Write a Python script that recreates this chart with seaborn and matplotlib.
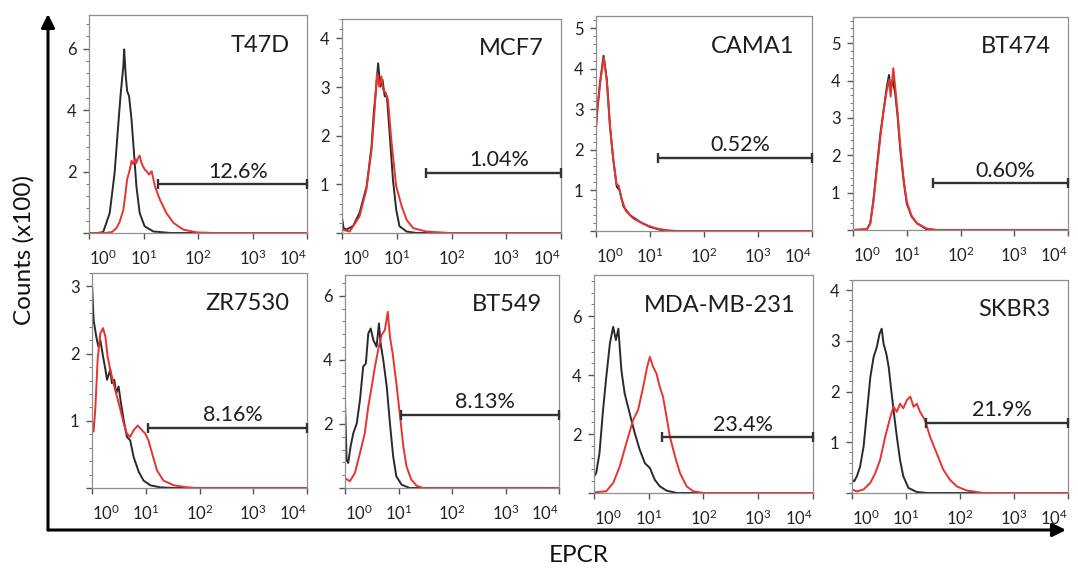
import numpy as np
import pandas as pd
import matplotlib
matplotlib.use("Agg")
import matplotlib.pyplot as plt
from matplotlib.ticker import AutoMinorLocator, FixedLocator, LogLocator, NullFormatter
from matplotlib.patches import FancyArrowPatch
import seaborn as sns

# ---------------- data (x in log10 EPCR units, y in counts x100) ----------------
cell_lines = ["T47D", "MCF7", "CAMA1", "BT474", "ZR7530", "BT549", "MDA-MB-231", "SKBR3"]
percent_labels = ["12.6%", "1.04%", "0.52%", "0.60%", "8.16%", "8.13%", "23.4%", "21.9%"]
gate_start_log = [1.27, 1.53, 1.15, 1.48, 1.05, 1.04, 1.25, 1.37]
gate_level = [1.58, 1.23, 1.80, 1.25, 0.90, 2.28, 1.89, 1.39]
y_max = [7.1, 4.4, 5.3, 5.7, 3.2, 6.65, 7.4, 4.2]
y_ticks = [[2, 4, 6], [1, 2, 3, 4], [1, 2, 3, 4, 5], [1, 2, 3, 4, 5],
           [1, 2, 3], [2, 4, 6], [2, 4, 6], [1, 2, 3, 4]]

t47d_iso_x = [0.0, 0.15, 0.26, 0.38, 0.47, 0.53, 0.58, 0.63, 0.645, 0.675, 0.70, 0.735, 0.78, 0.83, 0.87, 0.93, 1.02, 1.18, 1.5, 4.0]
t47d_iso_y = [0.0, 0.0, 0.03, 0.65, 1.96, 3.37, 4.51, 5.43, 5.98, 5.10, 4.62, 4.46, 3.70, 2.50, 1.52, 0.65, 0.22, 0.05, 0.0, 0.0]
t47d_epcr_x = [0.0, 0.30, 0.42, 0.50, 0.56, 0.63, 0.67, 0.70, 0.75, 0.78, 0.81, 0.85, 0.87, 0.90, 0.93, 0.96, 0.99, 1.03, 1.06, 1.10, 1.15, 1.21, 1.30, 1.42, 1.55, 1.73, 1.98, 2.3, 4.0]
t47d_epcr_y = [0.0, 0.0, 0.03, 0.15, 0.35, 0.75, 1.30, 1.75, 2.07, 2.35, 2.25, 2.40, 2.28, 2.45, 2.52, 2.30, 2.17, 2.05, 2.01, 1.90, 2.01, 1.52, 1.09, 0.65, 0.33, 0.11, 0.02, 0.0, 0.0]

mcf7_iso_x = [0.0, 0.03, 0.08, 0.2, 0.32, 0.45, 0.54, 0.58, 0.62, 0.66, 0.70, 0.74, 0.78, 0.82, 0.87, 0.93, 0.99, 1.05, 1.18, 1.36, 4.0]
mcf7_iso_y = [0.31, 0.1, 0.07, 0.14, 0.41, 0.96, 1.78, 2.47, 2.95, 3.49, 3.01, 3.15, 2.81, 2.81, 2.05, 1.10, 0.48, 0.14, 0.03, 0.0, 0.0]
mcf7_epcr_x = [0.0, 0.14, 0.32, 0.445, 0.54, 0.60, 0.64, 0.68, 0.72, 0.75, 0.80, 0.84, 0.90, 0.99, 1.09, 1.18, 1.30, 1.54, 1.97, 4.0]
mcf7_epcr_y = [0.07, 0.03, 0.34, 0.89, 1.71, 2.60, 3.29, 3.01, 3.22, 2.95, 2.88, 2.74, 1.92, 0.96, 0.55, 0.27, 0.10, 0.03, 0.0, 0.0]

cama1_iso_x = [0.0, 0.025, 0.075, 0.14, 0.2, 0.26, 0.32, 0.385, 0.435, 0.51, 0.63, 0.82, 1.0, 1.19, 1.38, 4.0]
cama1_iso_y = [2.58, 3.0, 3.66, 4.32, 3.74, 2.58, 1.75, 1.09, 1.01, 0.6, 0.39, 0.22, 0.10, 0.03, 0.0, 0.0]
cama1_epcr_x = [0.0, 0.03, 0.08, 0.145, 0.2, 0.26, 0.32, 0.38, 0.42, 0.47, 0.55, 0.7, 0.9, 1.1, 1.3, 1.5, 4.0]
cama1_epcr_y = [2.5, 3.05, 3.7, 4.28, 3.7, 2.55, 1.78, 1.15, 1.12, 0.8, 0.5, 0.3, 0.16, 0.07, 0.02, 0.0, 0.0]

bt474_iso_x = [0.0, 0.26, 0.32, 0.38, 0.445, 0.51, 0.57, 0.63, 0.67, 0.70, 0.74, 0.785, 0.83, 0.88, 0.94, 1.0, 1.09, 1.19, 1.37, 1.56, 4.0]
bt474_iso_y = [0.0, 0.02, 0.18, 0.80, 1.70, 2.59, 3.21, 3.84, 4.15, 3.75, 4.02, 3.66, 3.04, 2.14, 1.34, 0.71, 0.36, 0.18, 0.02, 0.0, 0.0]
bt474_epcr_x = [0.0, 0.26, 0.32, 0.38, 0.445, 0.51, 0.57, 0.63, 0.67, 0.70, 0.75, 0.79, 0.83, 0.88, 0.94, 1.0, 1.09, 1.19, 1.37, 1.56, 4.0]
bt474_epcr_y = [0.0, 0.02, 0.16, 0.76, 1.65, 2.50, 3.21, 3.75, 4.02, 3.57, 4.33, 3.75, 3.13, 2.23, 1.38, 0.76, 0.38, 0.18, 0.04, 0.0, 0.0]

zr7530_iso_x = [0.0, 0.03, 0.08, 0.12, 0.155, 0.205, 0.25, 0.28, 0.34, 0.37, 0.415, 0.45, 0.495, 0.53, 0.59, 0.65, 0.71, 0.775, 0.87, 0.96, 1.085, 1.27, 1.52, 4.0]
zr7530_iso_y = [3.05, 2.50, 2.25, 2.10, 2.20, 1.96, 1.76, 1.61, 1.76, 1.56, 1.61, 1.41, 1.51, 1.31, 1.01, 0.76, 0.71, 0.46, 0.24, 0.11, 0.04, 0.01, 0.0, 0.0]
zr7530_epcr_x = [0.0, 0.03, 0.06, 0.105, 0.155, 0.205, 0.25, 0.29, 0.34, 0.40, 0.465, 0.53, 0.59, 0.65, 0.71, 0.775, 0.85, 0.93, 0.99, 1.05, 1.12, 1.21, 1.33, 1.52, 1.77, 1.95, 4.0]
zr7530_epcr_y = [1.01, 0.84, 1.16, 1.91, 2.30, 2.38, 2.25, 1.96, 1.76, 1.56, 1.36, 1.16, 0.96, 0.81, 0.76, 0.86, 0.93, 0.86, 0.81, 0.71, 0.51, 0.26, 0.11, 0.04, 0.01, 0.0, 0.0]

bt549_iso_x = [0.0, 0.03, 0.06, 0.105, 0.155, 0.22, 0.28, 0.34, 0.39, 0.435, 0.48, 0.53, 0.59, 0.635, 0.665, 0.715, 0.78, 0.84, 0.90, 0.96, 1.06, 1.21, 4.0]
bt549_iso_y = [2.65, 0.88, 0.78, 1.30, 1.71, 2.02, 2.75, 3.79, 3.89, 4.82, 4.98, 4.62, 4.41, 5.14, 4.52, 4.0, 3.17, 2.02, 0.99, 0.36, 0.10, 0.0, 0.0]
bt549_epcr_x = [0.0, 0.09, 0.185, 0.28, 0.37, 0.435, 0.50, 0.56, 0.62, 0.685, 0.745, 0.80, 0.84, 0.89, 0.96, 1.03, 1.09, 1.15, 1.24, 1.34, 1.46, 4.0]
bt549_epcr_y = [0.31, 0.21, 0.47, 1.09, 1.71, 2.54, 3.17, 3.79, 4.31, 4.78, 4.93, 5.50, 4.72, 4.21, 3.27, 2.23, 1.30, 0.67, 0.26, 0.07, 0.0, 0.0]

mda_iso_x = [0.0, 0.04, 0.10, 0.165, 0.225, 0.29, 0.35, 0.40, 0.445, 0.50, 0.56, 0.65, 0.745, 0.835, 0.93, 1.02, 1.11, 1.20, 1.325, 1.51, 4.0]
mda_iso_y = [0.56, 0.68, 1.35, 2.82, 3.95, 5.07, 5.64, 5.19, 5.58, 4.17, 3.38, 2.71, 2.03, 1.47, 1.01, 0.85, 0.45, 0.23, 0.08, 0.0, 0.0]
mda_epcr_x = [0.0, 0.225, 0.35, 0.47, 0.59, 0.715, 0.805, 0.90, 0.97, 1.02, 1.08, 1.14, 1.20, 1.26, 1.325, 1.385, 1.48, 1.57, 1.69, 1.81, 2.0, 4.0]
mda_epcr_y = [0.02, 0.06, 0.34, 0.90, 1.69, 2.48, 2.82, 3.61, 4.28, 4.62, 4.28, 4.06, 3.61, 3.27, 2.59, 1.92, 1.24, 0.68, 0.23, 0.06, 0.0, 0.0]

skbr3_iso_x = [0.0, 0.04, 0.09, 0.15, 0.215, 0.28, 0.34, 0.40, 0.46, 0.51, 0.55, 0.585, 0.635, 0.68, 0.72, 0.77, 0.83, 0.89, 0.95, 1.045, 1.2, 1.4, 4.0]
skbr3_iso_y = [0.26, 0.23, 0.33, 0.52, 0.92, 1.63, 2.29, 2.68, 2.88, 3.14, 3.24, 2.94, 2.75, 2.48, 2.09, 1.63, 1.11, 0.65, 0.33, 0.10, 0.02, 0.0, 0.0]
skbr3_epcr_x = [0.0, 0.09, 0.215, 0.34, 0.43, 0.52, 0.615, 0.71, 0.77, 0.83, 0.89, 0.95, 1.015, 1.08, 1.14, 1.20, 1.26, 1.35, 1.445, 1.57, 1.69, 1.815, 1.94, 2.12, 2.43, 4.0]
skbr3_epcr_y = [0.07, 0.03, 0.07, 0.20, 0.39, 0.65, 1.11, 1.50, 1.70, 1.60, 1.76, 1.67, 1.83, 1.90, 1.70, 1.76, 1.60, 1.44, 1.11, 0.78, 0.46, 0.26, 0.13, 0.05, 0.0, 0.0]

iso_curves = [(t47d_iso_x, t47d_iso_y), (mcf7_iso_x, mcf7_iso_y), (cama1_iso_x, cama1_iso_y),
              (bt474_iso_x, bt474_iso_y), (zr7530_iso_x, zr7530_iso_y), (bt549_iso_x, bt549_iso_y),
              (mda_iso_x, mda_iso_y), (skbr3_iso_x, skbr3_iso_y)]
epcr_curves = [(t47d_epcr_x, t47d_epcr_y), (mcf7_epcr_x, mcf7_epcr_y), (cama1_epcr_x, cama1_epcr_y),
               (bt474_epcr_x, bt474_epcr_y), (zr7530_epcr_x, zr7530_epcr_y), (bt549_epcr_x, bt549_epcr_y),
               (mda_epcr_x, mda_epcr_y), (skbr3_epcr_x, skbr3_epcr_y)]

x_tick_values = [1, 10, 100, 1000, 10000]
x_tick_labels = [r"$\mathregular{10^{0}}$", r"$\mathregular{10^{1}}$", r"$\mathregular{10^{2}}$",
                 r"$\mathregular{10^{3}}$", r"$\mathregular{10^{4}}$"]

# ---------------- style ----------------
sns.set_theme(style="white")
FONT = "Lato"
plt.rcParams["font.family"] = [FONT, "DejaVu Sans"]
plt.rcParams["mathtext.fontset"] = "custom"
plt.rcParams["mathtext.rm"] = FONT
plt.rcParams["mathtext.it"] = FONT + ":italic"
plt.rcParams["mathtext.bf"] = FONT + ":bold"

W, H = 1078, 568
fig = plt.figure(figsize=(W / 100, H / 100), dpi=100)
fig.patch.set_facecolor("white")

# panel boxes in pixels: left, right, top, bottom
boxes = [(89, 307, 15, 233), (342, 561, 19, 233), (596, 812, 16, 231), (853, 1068, 17, 230),
         (92, 307, 273, 488), (345, 559, 275, 488), (594, 813, 275, 493), (852, 1068, 280, 493)]

palette = {"Isotype": "#2a2a2a", "EPCR": "#e8332f"}

for i, name in enumerate(cell_lines):
    l, r, t, b = boxes[i]
    ax = fig.add_axes([l / W, 1 - b / H, (r - l) / W, (b - t) / H])
    ix, iy = iso_curves[i]
    ex, ey = epcr_curves[i]
    df = pd.concat([
        pd.DataFrame({"epcr": 10 ** np.array(ix), "counts": iy, "stain": "Isotype"}),
        pd.DataFrame({"epcr": 10 ** np.array(ex), "counts": ey, "stain": "EPCR"}),
    ], ignore_index=True)
    sns.lineplot(data=df, x="epcr", y="counts", hue="stain", hue_order=["Isotype", "EPCR"],
                 palette=palette, estimator=None, sort=False, legend=False, linewidth=1.4, ax=ax)
    ax.set_xscale("log")
    ax.set_xlim(1, 1e4)
    ax.set_ylim(0, y_max[i])
    ax.set_xlabel("")
    ax.set_ylabel("")

    # gate bar
    gs = 10 ** gate_start_log[i]
    ax.plot([gs, 1e4], [gate_level[i], gate_level[i]], color="#333333", lw=1.7,
            marker="|", markersize=7.5, markeredgewidth=1.7, clip_on=False, zorder=5)
    mid = 10 ** ((gate_start_log[i] + 4) / 2 + 0.1)
    ax.annotate(percent_labels[i], xy=(mid, gate_level[i]), xytext=(0, 2), textcoords="offset points",
                ha="center", va="bottom", fontsize=15.5, color="#1e1e1e")
    ax.text(0.92, 0.86, name, transform=ax.transAxes, ha="right", va="center",
            fontsize=17, color="#1e1e1e")

    # ticks
    ax.xaxis.set_major_locator(FixedLocator(x_tick_values))
    ax.set_xticklabels(x_tick_labels)
    xl = ax.get_xticklabels()
    xl[0].set_ha("left")
    xl[-1].set_ha("right")
    ax.xaxis.set_minor_locator(LogLocator(base=10, subs=np.arange(2, 10)))
    ax.xaxis.set_minor_formatter(NullFormatter())
    ax.set_yticks([0] + y_ticks[i])
    ax.set_yticklabels([""] + [str(v) for v in y_ticks[i]])
    ax.yaxis.set_minor_locator(AutoMinorLocator(5))
    ax.tick_params(axis="both", which="major", direction="out", length=4, width=1.0,
                   color="#555555", labelsize=12, labelcolor="#222222", pad=5)
    ax.tick_params(axis="x", which="major", pad=7)
    ax.tick_params(axis="both", which="minor", direction="out", length=2, width=0.7, color="#777777")
    ax.tick_params(left=True, bottom=True, which="both")
    for s in ax.spines.values():
        s.set_visible(True)
        s.set_color("#8f8f8f")
        s.set_linewidth(0.9)
    ax.set_facecolor("white")

# big axis arrows
corner = (48 / W, 1 - 530 / H)
for tip in [(48 / W, 1 - 14 / H), (1066 / W, 1 - 530 / H)]:
    arr = FancyArrowPatch(corner, tip, transform=fig.transFigure, arrowstyle="-|>",
                          mutation_scale=20, linewidth=2.2, color="black", shrinkA=0, shrinkB=0)
    fig.add_artist(arr)

fig.text(24 / W, 1 - 250 / H, "Counts (x100)", rotation=90, ha="center", va="center",
         fontsize=17.5, color="#111111")
fig.text(579 / W, 1 - 555 / H, "EPCR", ha="center", va="center", fontsize=17.5, color="#111111")

fig.savefig("out.png", dpi=100, facecolor="white")
